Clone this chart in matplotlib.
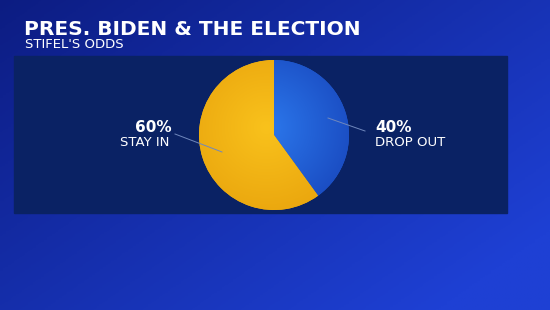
import numpy as np
import matplotlib
matplotlib.use("Agg")
import matplotlib.pyplot as plt
from matplotlib.patches import Rectangle
from matplotlib.colors import LinearSegmentedColormap

TITLE = "PRES. BIDEN & THE ELECTION"
SUBTITLE = "STIFEL'S ODDS"
labels = ["DROP OUT", "STAY IN"]
shares = [40, 60]
colors = ["#1f5fd6", "#f3b413"]
shades = [("#2c78ec", "#1a4cc2"), ("#f9c21c", "#eaa60e")]

W, H = 550, 310
FONT = "DejaVu Sans"
fig = plt.figure(figsize=(W / 100, H / 100), dpi=100)

# background: blue gradient
bg = fig.add_axes([0, 0, 1, 1])
bg.set_axis_off()
yy, xx = np.mgrid[0:1:200j, 0:1:200j]
grad = 0.5 + 0.25 * xx + 0.2 * yy
cmap = LinearSegmentedColormap.from_list("bgblue", ["#0a1878", "#1e40d4"])
bg.imshow(grad, cmap=cmap, extent=[0, W, H, 0], aspect="auto", vmin=0.45, vmax=0.9)
bg.set_xlim(0, W)
bg.set_ylim(H, 0)

# dark panel
bg.add_patch(Rectangle((14, 56), 493, 157, color="#0a2264", zorder=2))

# pie
cx, cy, r = 274, 135, 75
ax = fig.add_axes([(cx - r) / W, (H - cy - r) / H, 2 * r / W, 2 * r / H])
wedges, _ = ax.pie(shares, colors=colors, startangle=90, counterclock=False,
                   wedgeprops=dict(linewidth=0))
ax.set_xlim(-1, 1)
ax.set_ylim(-1, 1)
ax.set_aspect("auto")
ax.set_axis_off()

# soft radial shading inside each slice
gy, gx = np.mgrid[-1:1:200j, -1:1:200j]
rad = np.hypot(gx + 0.1, gy - 0.1)
for w, (c0, c1) in zip(wedges, shades):
    cm = LinearSegmentedColormap.from_list("s", [c0, c1])
    im = ax.imshow(rad, cmap=cm, extent=[-1, 1, -1, 1], vmin=0, vmax=1.2,
                   origin="lower", zorder=2)
    im.set_clip_path(w)

# overlay for text and leader lines
top = fig.add_axes([0, 0, 1, 1])
top.set_axis_off()
top.set_xlim(0, W)
top.set_ylim(H, 0)

top.text(24, 35, TITLE, color="white", fontsize=14.5, fontweight="bold", family=FONT)
top.text(25, 48.5, SUBTITLE, color="white", fontsize=9.5, family=FONT)

top.plot([175, 222], [134, 152], color="#7088bd", lw=0.7)
top.plot([328, 365], [118, 131], color="#7088bd", lw=0.7)
top.text(172, 132, f"{shares[1]}%", color="white", fontsize=11, fontweight="bold",
         family=FONT, ha="right")
top.text(169, 146, labels[1], color="white", fontsize=9.5, family=FONT, ha="right")
top.text(375, 132, f"{shares[0]}%", color="white", fontsize=11, fontweight="bold",
         family=FONT, ha="left")
top.text(375, 146, labels[0], color="white", fontsize=9.5, family=FONT, ha="left")

fig.savefig("out.png", dpi=100)
